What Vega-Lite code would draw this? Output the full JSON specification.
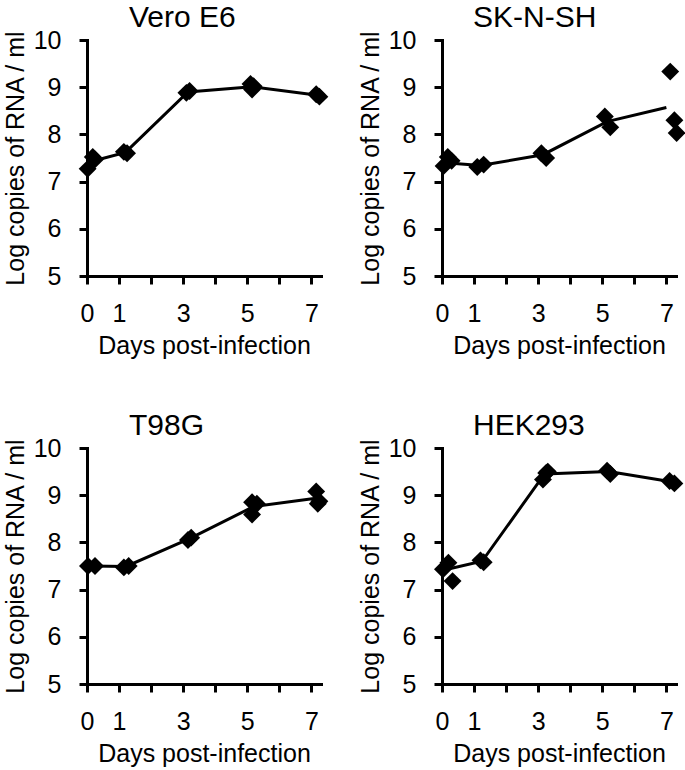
{
  "$schema": "https://vega.github.io/schema/vega-lite/v6.json",
  "background": "white",
  "padding": {"left": 3, "top": 3, "right": 5, "bottom": 2},
  "columns": 2,
  "bounds": "flush",
  "align": "all",
  "spacing": {"row": 172, "column": 121},
  "data": {"values": [
    {"cell": "Vero E6", "kind": "rep", "day": 0.02, "value": 7.27},
    {"cell": "Vero E6", "kind": "rep", "day": 0.18, "value": 7.52},
    {"cell": "Vero E6", "kind": "rep", "day": 0.25, "value": 7.47},
    {"cell": "Vero E6", "kind": "rep", "day": 1.15, "value": 7.63},
    {"cell": "Vero E6", "kind": "rep", "day": 1.25, "value": 7.6},
    {"cell": "Vero E6", "kind": "rep", "day": 3.1, "value": 8.88},
    {"cell": "Vero E6", "kind": "rep", "day": 3.2, "value": 8.92},
    {"cell": "Vero E6", "kind": "rep", "day": 5.1, "value": 9.07},
    {"cell": "Vero E6", "kind": "rep", "day": 5.15, "value": 8.95},
    {"cell": "Vero E6", "kind": "rep", "day": 5.2, "value": 9.02},
    {"cell": "Vero E6", "kind": "rep", "day": 7.15, "value": 8.85},
    {"cell": "Vero E6", "kind": "rep", "day": 7.25, "value": 8.8},
    {"cell": "Vero E6", "kind": "mean", "day": 0.1, "value": 7.42},
    {"cell": "Vero E6", "kind": "mean", "day": 1.2, "value": 7.62},
    {"cell": "Vero E6", "kind": "mean", "day": 3.15, "value": 8.9},
    {"cell": "Vero E6", "kind": "mean", "day": 5.15, "value": 9.01},
    {"cell": "Vero E6", "kind": "mean", "day": 7.2, "value": 8.83},
    {"cell": "SK-N-SH", "kind": "rep", "day": 0.05, "value": 7.33},
    {"cell": "SK-N-SH", "kind": "rep", "day": 0.18, "value": 7.52},
    {"cell": "SK-N-SH", "kind": "rep", "day": 0.3, "value": 7.44},
    {"cell": "SK-N-SH", "kind": "rep", "day": 1.1, "value": 7.31},
    {"cell": "SK-N-SH", "kind": "rep", "day": 1.3, "value": 7.36},
    {"cell": "SK-N-SH", "kind": "rep", "day": 3.1, "value": 7.6},
    {"cell": "SK-N-SH", "kind": "rep", "day": 3.25, "value": 7.5},
    {"cell": "SK-N-SH", "kind": "rep", "day": 5.08, "value": 8.38},
    {"cell": "SK-N-SH", "kind": "rep", "day": 5.25, "value": 8.15},
    {"cell": "SK-N-SH", "kind": "rep", "day": 7.12, "value": 9.33},
    {"cell": "SK-N-SH", "kind": "rep", "day": 7.25, "value": 8.3},
    {"cell": "SK-N-SH", "kind": "rep", "day": 7.32, "value": 8.03},
    {"cell": "SK-N-SH", "kind": "mean", "day": 0.1, "value": 7.4},
    {"cell": "SK-N-SH", "kind": "mean", "day": 1.2, "value": 7.34},
    {"cell": "SK-N-SH", "kind": "mean", "day": 3.15, "value": 7.57},
    {"cell": "SK-N-SH", "kind": "mean", "day": 5.15, "value": 8.27},
    {"cell": "SK-N-SH", "kind": "mean", "day": 7.0, "value": 8.57},
    {"cell": "T98G", "kind": "rep", "day": 0.03, "value": 7.5},
    {"cell": "T98G", "kind": "rep", "day": 0.25, "value": 7.5},
    {"cell": "T98G", "kind": "rep", "day": 1.15, "value": 7.47},
    {"cell": "T98G", "kind": "rep", "day": 1.3, "value": 7.5},
    {"cell": "T98G", "kind": "rep", "day": 3.15, "value": 8.05},
    {"cell": "T98G", "kind": "rep", "day": 3.25, "value": 8.1},
    {"cell": "T98G", "kind": "rep", "day": 5.15, "value": 8.85},
    {"cell": "T98G", "kind": "rep", "day": 5.3, "value": 8.82},
    {"cell": "T98G", "kind": "rep", "day": 5.15, "value": 8.59},
    {"cell": "T98G", "kind": "rep", "day": 7.15, "value": 9.08},
    {"cell": "T98G", "kind": "rep", "day": 7.25, "value": 8.87},
    {"cell": "T98G", "kind": "rep", "day": 7.2, "value": 8.82},
    {"cell": "T98G", "kind": "mean", "day": 0.1, "value": 7.5},
    {"cell": "T98G", "kind": "mean", "day": 1.22, "value": 7.49},
    {"cell": "T98G", "kind": "mean", "day": 3.2, "value": 8.08},
    {"cell": "T98G", "kind": "mean", "day": 5.2, "value": 8.76},
    {"cell": "T98G", "kind": "mean", "day": 7.2, "value": 8.94},
    {"cell": "HEK293", "kind": "rep", "day": 0.03, "value": 7.43},
    {"cell": "HEK293", "kind": "rep", "day": 0.2, "value": 7.57},
    {"cell": "HEK293", "kind": "rep", "day": 0.33, "value": 7.18},
    {"cell": "HEK293", "kind": "rep", "day": 1.2, "value": 7.62},
    {"cell": "HEK293", "kind": "rep", "day": 1.3, "value": 7.58},
    {"cell": "HEK293", "kind": "rep", "day": 3.15, "value": 9.33},
    {"cell": "HEK293", "kind": "rep", "day": 3.25, "value": 9.47},
    {"cell": "HEK293", "kind": "rep", "day": 3.3, "value": 9.5},
    {"cell": "HEK293", "kind": "rep", "day": 5.15, "value": 9.52},
    {"cell": "HEK293", "kind": "rep", "day": 5.25, "value": 9.45},
    {"cell": "HEK293", "kind": "rep", "day": 7.1, "value": 9.3},
    {"cell": "HEK293", "kind": "rep", "day": 7.25, "value": 9.25},
    {"cell": "HEK293", "kind": "mean", "day": 0.1, "value": 7.42},
    {"cell": "HEK293", "kind": "mean", "day": 1.25, "value": 7.6},
    {"cell": "HEK293", "kind": "mean", "day": 3.2, "value": 9.45},
    {"cell": "HEK293", "kind": "mean", "day": 5.2, "value": 9.5},
    {"cell": "HEK293", "kind": "mean", "day": 7.2, "value": 9.28}
  ]},
  "concat": [
    {
      "title": {"text": "Vero E6", "dx": 42},
      "width": 234, "height": 236,
      "transform": [{"filter": "datum.cell == 'Vero E6'"}],
      "encoding": {
        "x": {"field": "day", "type": "quantitative", "scale": {"domain": [0, 7.3], "nice": false}, "axis": {"values": [0,1,2,3,4,5,6,7], "labelExpr": "datum.value == 2 || datum.value == 4 || datum.value == 6 ? '' : datum.label", "title": "Days post-infection"}},
        "y": {"field": "value", "type": "quantitative", "scale": {"domain": [5, 10], "nice": false, "zero": false}, "axis": {"values": [5,6,7,8,9,10], "title": "Log copies of RNA / ml"}}
      },
      "layer": [
        {"transform": [{"filter": "datum.kind == 'mean'"}], "mark": {"type": "line", "color": "black", "strokeWidth": 3}},
        {"transform": [{"filter": "datum.kind == 'rep'"}], "mark": {"type": "point", "shape": "diamond", "filled": true, "color": "black", "opacity": 1, "size": 320}}
      ]
    },
    {
      "title": {"text": "SK-N-SH", "dx": 31},
      "width": 234, "height": 236,
      "transform": [{"filter": "datum.cell == 'SK-N-SH'"}],
      "encoding": {
        "x": {"field": "day", "type": "quantitative", "scale": {"domain": [0, 7.3], "nice": false}, "axis": {"values": [0,1,2,3,4,5,6,7], "labelExpr": "datum.value == 2 || datum.value == 4 || datum.value == 6 ? '' : datum.label", "title": "Days post-infection"}},
        "y": {"field": "value", "type": "quantitative", "scale": {"domain": [5, 10], "nice": false, "zero": false}, "axis": {"values": [5,6,7,8,9,10], "title": "Log copies of RNA / ml"}}
      },
      "layer": [
        {"transform": [{"filter": "datum.kind == 'mean'"}], "mark": {"type": "line", "color": "black", "strokeWidth": 3}},
        {"transform": [{"filter": "datum.kind == 'rep'"}], "mark": {"type": "point", "shape": "diamond", "filled": true, "color": "black", "opacity": 1, "size": 320}}
      ]
    },
    {
      "title": {"text": "T98G", "dx": 42},
      "width": 234, "height": 236,
      "transform": [{"filter": "datum.cell == 'T98G'"}],
      "encoding": {
        "x": {"field": "day", "type": "quantitative", "scale": {"domain": [0, 7.3], "nice": false}, "axis": {"values": [0,1,2,3,4,5,6,7], "labelExpr": "datum.value == 2 || datum.value == 4 || datum.value == 6 ? '' : datum.label", "title": "Days post-infection"}},
        "y": {"field": "value", "type": "quantitative", "scale": {"domain": [5, 10], "nice": false, "zero": false}, "axis": {"values": [5,6,7,8,9,10], "title": "Log copies of RNA / ml"}}
      },
      "layer": [
        {"transform": [{"filter": "datum.kind == 'mean'"}], "mark": {"type": "line", "color": "black", "strokeWidth": 3}},
        {"transform": [{"filter": "datum.kind == 'rep'"}], "mark": {"type": "point", "shape": "diamond", "filled": true, "color": "black", "opacity": 1, "size": 320}}
      ]
    },
    {
      "title": {"text": "HEK293", "dx": 31},
      "width": 234, "height": 236,
      "transform": [{"filter": "datum.cell == 'HEK293'"}],
      "encoding": {
        "x": {"field": "day", "type": "quantitative", "scale": {"domain": [0, 7.3], "nice": false}, "axis": {"values": [0,1,2,3,4,5,6,7], "labelExpr": "datum.value == 2 || datum.value == 4 || datum.value == 6 ? '' : datum.label", "title": "Days post-infection"}},
        "y": {"field": "value", "type": "quantitative", "scale": {"domain": [5, 10], "nice": false, "zero": false}, "axis": {"values": [5,6,7,8,9,10], "title": "Log copies of RNA / ml"}}
      },
      "layer": [
        {"transform": [{"filter": "datum.kind == 'mean'"}], "mark": {"type": "line", "color": "black", "strokeWidth": 3}},
        {"transform": [{"filter": "datum.kind == 'rep'"}], "mark": {"type": "point", "shape": "diamond", "filled": true, "color": "black", "opacity": 1, "size": 320}}
      ]
    }
  ],
  "config": {
    "font": "Liberation Sans",
    "view": {"stroke": null},
    "axis": {
      "grid": false,
      "domainColor": "black", "domainWidth": 3, "domainCap": "square",
      "tickColor": "black", "tickWidth": 3, "tickSize": 8,
      "labelFont": "Liberation Sans", "labelFontSize": 25, "labelColor": "black",
      "titleFont": "Liberation Sans", "titleFontSize": 25, "titleFontWeight": "normal", "titleColor": "black"
    },
    "axisX": {"labelPadding": 17, "titlePadding": 7, "labelFlush": false, "labelOverlap": false},
    "axisY": {"labelPadding": 18, "titlePadding": 5},
    "title": {"font": "Liberation Sans", "fontSize": 30, "fontWeight": "normal", "color": "black", "anchor": "start", "frame": "group", "baseline": "alphabetic", "offset": -5}
  }
}
